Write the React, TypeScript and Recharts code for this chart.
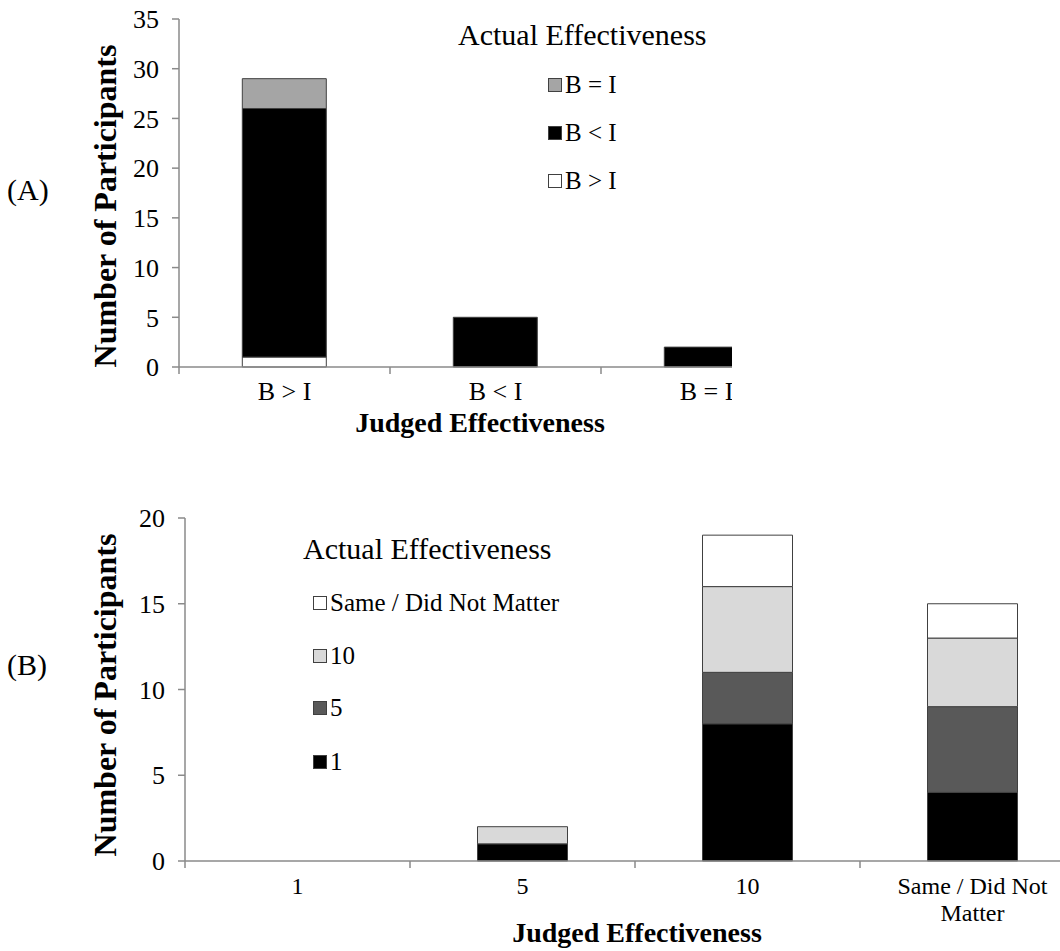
import { BarChart, Bar, XAxis, YAxis, Legend } from 'recharts';

const FONT = '"Liberation Serif", "Times New Roman", serif';
const AXIS = '#8a8a8a';
const EDGE = '#404040';

// Panel A: judged vs actual effectiveness
const categoriesA = ['B > I', 'B < I', 'B = I'];
const actualBgtI = [1, 0, 0];
const actualBltI = [25, 5, 2];
const actualBeqI = [3, 0, 0];
const yTicksA = [0, 5, 10, 15, 20, 25, 30, 35];
const legendOrderA = ['bEqI', 'bLtI', 'bGtI'];

// Panel B
const categoriesB = ['1', '5', '10', 'Same / Did Not Matter'];
const tickLinesB = [['1'], ['5'], ['10'], ['Same / Did Not', 'Matter']];
const actual1 = [0, 1, 8, 4];
const actual5 = [0, 0, 3, 5];
const actual10 = [0, 1, 5, 4];
const actualSame = [0, 0, 3, 2];
const yTicksB = [0, 5, 10, 15, 20];
const legendOrderB = ['same', 'ten', 'five', 'one'];

const dataA = categoriesA.map((judged, i) => ({
  judged,
  bGtI: actualBgtI[i],
  bLtI: actualBltI[i],
  bEqI: actualBeqI[i],
}));

const dataB = categoriesB.map((judged, i) => ({
  judged,
  one: actual1[i],
  five: actual5[i],
  ten: actual10[i],
  same: actualSame[i],
}));

// x tick: label centred under the bar, tick marks at category boundaries
const makeTick = (band: number, lines: string[][], fontSize: number, firstDy: number) => (props: any) => {
  const { x, y, index } = props;
  const left = x - band / 2;
  return (
    <g>
      <line x1={left} x2={left} y1={y} y2={y + 7} stroke={AXIS} strokeWidth={1.5} />
      {index === lines.length - 1 && (
        <line x1={left + band} x2={left + band} y1={y} y2={y + 7} stroke={AXIS} strokeWidth={1.5} />
      )}
      {(lines[index] || []).map((line, k) => (
        <text
          key={k}
          x={x}
          y={y + firstDy + k * 27}
          textAnchor="middle"
          dominantBaseline="central"
          fontFamily={FONT}
          fontSize={fontSize}
          fill="#000"
        >
          {line}
        </text>
      ))}
    </g>
  );
};

const yTitle = (cx: number, cy: number) => () => (
  <text
    x={cx}
    y={cy}
    transform={`rotate(-90 ${cx} ${cy})`}
    textAnchor="middle"
    dominantBaseline="central"
    fontFamily={FONT}
    fontWeight="bold"
    fontSize={32}
    fill="#000"
  >
    Number of Participants
  </text>
);

const xTitle = (cx: number, cy: number) => () => (
  <text
    x={cx}
    y={cy}
    textAnchor="middle"
    dominantBaseline="central"
    fontFamily={FONT}
    fontWeight="bold"
    fontSize={28}
    fill="#000"
  >
    Judged Effectiveness
  </text>
);

const legendBlock =
  (title: string, order: string[], titleX: number, titleY: number, swatchX: number, rowY: number[]) =>
  (props: any) => {
    const items = [...(props.payload || [])].sort(
      (a: any, b: any) => order.indexOf(a.dataKey) - order.indexOf(b.dataKey),
    );
    return (
      <div style={{ position: 'relative', fontFamily: FONT, color: '#000' }}>
        <div
          style={{
            position: 'absolute',
            left: titleX,
            top: titleY - 18,
            fontSize: 30,
            lineHeight: '36px',
            whiteSpace: 'nowrap',
          }}
        >
          {title}
        </div>
        {items.map((item: any, i: number) => (
          <div
            key={item.value}
            style={{
              position: 'absolute',
              left: swatchX,
              top: rowY[i] - 15,
              height: 30,
              display: 'flex',
              alignItems: 'center',
              fontSize: 25,
              whiteSpace: 'nowrap',
            }}
          >
            <span
              style={{
                display: 'inline-block',
                width: 12,
                height: 12,
                background: item.color,
                border: `1px solid ${EDGE}`,
                marginRight: 3,
              }}
            />
            {item.value}
          </div>
        ))}
      </div>
    );
  };

const tickStyle = { fontFamily: FONT, fontSize: 26, fill: '#000' };

export default function App() {
  return (
    <div
      style={{
        position: 'absolute',
        left: 0,
        top: 0,
        width: 1060,
        height: 951,
        overflow: 'hidden',
        background: '#fff',
        fontFamily: FONT,
      }}
    >
      <div style={{ position: 'absolute', left: 7, top: 170, fontSize: 30, lineHeight: '40px' }}>(A)</div>
      <div style={{ position: 'absolute', left: 7, top: 645, fontSize: 30, lineHeight: '40px' }}>(B)</div>

      <div style={{ position: 'absolute', left: 0, top: 0, width: 732, height: 450, overflow: 'hidden' }}>
        <BarChart
          width={812}
          height={450}
          data={dataA}
          margin={{ top: 19, right: 0, bottom: 0, left: 119 }}
          barCategoryGap="30%"
        >
          <XAxis
            dataKey="judged"
            height={83}
            interval={0}
            tickLine={false}
            tickSize={0}
            tickMargin={0}
            axisLine={{ stroke: AXIS, strokeWidth: 1.5 }}
            tick={makeTick(211, categoriesA.map((c) => [c]), 26, 24)}
            label={{ value: 'Judged Effectiveness', content: xTitle(480, 422) }}
          />
          <YAxis
            width={60}
            domain={[0, 35]}
            ticks={yTicksA}
            interval={0}
            tickSize={7}
            tickMargin={13}
            axisLine={{ stroke: AXIS, strokeWidth: 1.5 }}
            tickLine={{ stroke: AXIS, strokeWidth: 1.5 }}
            tick={tickStyle}
            label={{ value: 'Number of Participants', content: yTitle(105, 206) }}
          />
          <Legend
            layout="horizontal"
            verticalAlign="middle"
            align="center"
            wrapperStyle={{ left: 0, top: 0 }}
            content={legendBlock('Actual Effectiveness', legendOrderA, 458, 35, 548, [85, 133, 181])}
          />
          <Bar dataKey="bGtI" name="B > I" stackId="a" fill="#ffffff" stroke={EDGE} strokeWidth={1} isAnimationActive={false} />
          <Bar dataKey="bLtI" name="B < I" stackId="a" fill="#000000" stroke={EDGE} strokeWidth={1} isAnimationActive={false} />
          <Bar dataKey="bEqI" name="B = I" stackId="a" fill="#a5a5a5" stroke={EDGE} strokeWidth={1} isAnimationActive={false} />
        </BarChart>
      </div>

      <div style={{ position: 'absolute', left: 0, top: 470, width: 1060, height: 481, overflow: 'hidden' }}>
        <BarChart
          width={1085}
          height={481}
          data={dataB}
          margin={{ top: 48, right: 0, bottom: 0, left: 125 }}
          barCategoryGap="30%"
        >
          <XAxis
            dataKey="judged"
            height={90}
            interval={0}
            tickLine={false}
            tickSize={0}
            tickMargin={0}
            axisLine={{ stroke: AXIS, strokeWidth: 1.5 }}
            tick={makeTick(225, tickLinesB, 24, 25)}
            label={{ value: 'Judged Effectiveness', content: xTitle(637, 462) }}
          />
          <YAxis
            width={60}
            domain={[0, 20]}
            ticks={yTicksB}
            interval={0}
            tickSize={7}
            tickMargin={13}
            axisLine={{ stroke: AXIS, strokeWidth: 1.5 }}
            tickLine={{ stroke: AXIS, strokeWidth: 1.5 }}
            tick={tickStyle}
            label={{ value: 'Number of Participants', content: yTitle(105, 225) }}
          />
          <Legend
            layout="horizontal"
            verticalAlign="middle"
            align="center"
            wrapperStyle={{ left: 0, top: 0 }}
            content={legendBlock('Actual Effectiveness', legendOrderB, 303, 79, 313, [133, 186, 238, 292])}
          />
          <Bar dataKey="one" name="1" stackId="b" fill="#000000" stroke={EDGE} strokeWidth={1} isAnimationActive={false} />
          <Bar dataKey="five" name="5" stackId="b" fill="#595959" stroke={EDGE} strokeWidth={1} isAnimationActive={false} />
          <Bar dataKey="ten" name="10" stackId="b" fill="#d9d9d9" stroke={EDGE} strokeWidth={1} isAnimationActive={false} />
          <Bar dataKey="same" name="Same / Did Not Matter" stackId="b" fill="#ffffff" stroke={EDGE} strokeWidth={1} isAnimationActive={false} />
        </BarChart>
      </div>
    </div>
  );
}
